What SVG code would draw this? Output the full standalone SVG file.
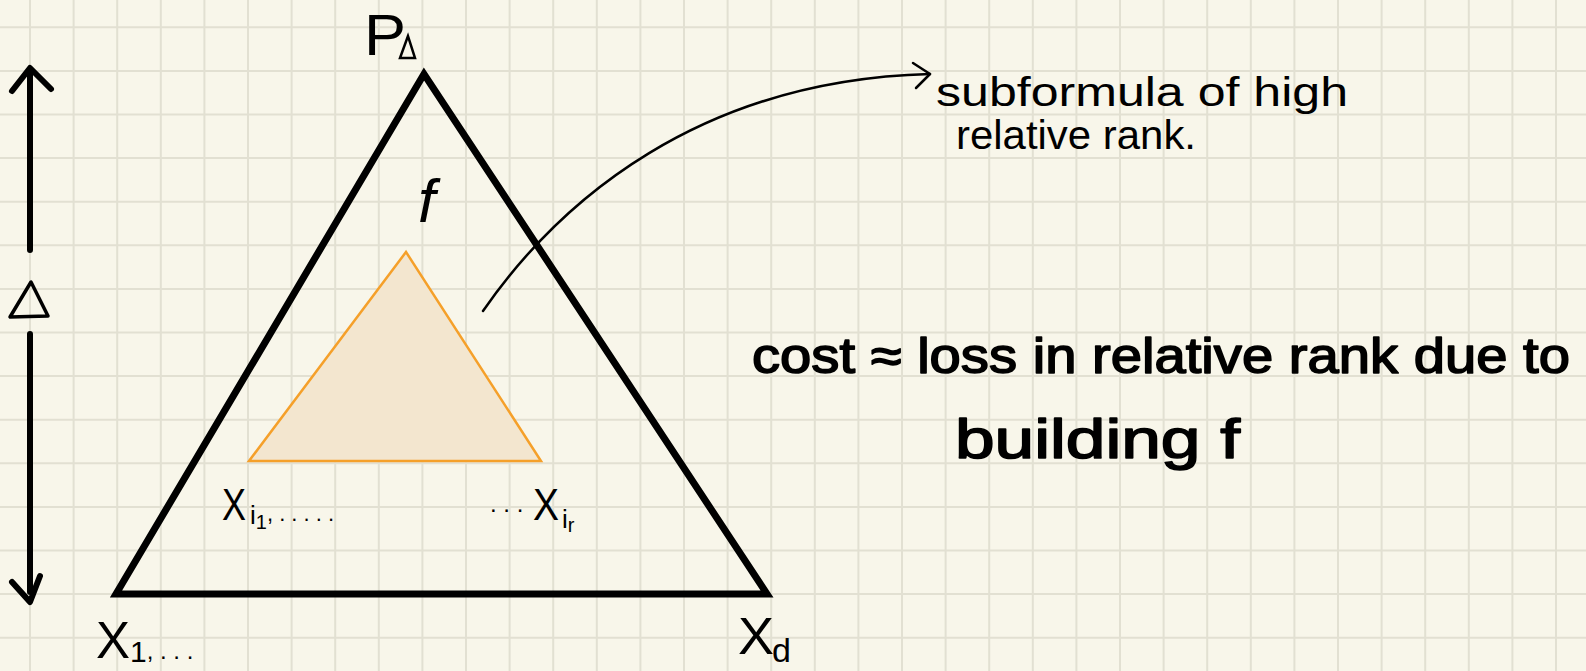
<svg xmlns="http://www.w3.org/2000/svg" width="1586" height="671" viewBox="0 0 1586 671">
<style>
.grid{stroke:#e2e0d2;stroke-width:2;fill:none}
.hw{font-family:"Liberation Sans",Arial,sans-serif;fill:#000}
.mk{stroke:#000;stroke-width:1.6;stroke-linejoin:round}
.tri{fill:none;stroke:#000;stroke-width:7;stroke-linejoin:miter}
.otri{fill:#f3e6cf;stroke:#f5a02a;stroke-width:2.5}
.arr{fill:none;stroke:#000;stroke-width:6;stroke-linecap:round;stroke-linejoin:round}
.thin{fill:none;stroke:#000;stroke-width:2.5;stroke-linecap:round;stroke-linejoin:round}
</style>
<rect width="1586" height="671" fill="#f8f6ea"/>
<path class="grid" d="M30,0V671M73.6,0V671M117.2,0V671M160.8,0V671M204.4,0V671M248,0V671M291.6,0V671M335.2,0V671M378.8,0V671M422.4,0V671M466,0V671M509.6,0V671M553.2,0V671M596.8,0V671M640.4,0V671M684,0V671M727.6,0V671M771.2,0V671M814.8,0V671M858.4,0V671M902,0V671M945.6,0V671M989.2,0V671M1032.8,0V671M1076.4,0V671M1120,0V671M1163.6,0V671M1207.2,0V671M1250.8,0V671M1294.4,0V671M1338,0V671M1381.6,0V671M1425.2,0V671M1468.8,0V671M1512.4,0V671M1556,0V671M0,27.3H1586M0,70.9H1586M0,114.5H1586M0,158.1H1586M0,201.7H1586M0,245.3H1586M0,288.9H1586M0,332.5H1586M0,376.1H1586M0,419.7H1586M0,463.3H1586M0,506.9H1586M0,550.5H1586M0,594.1H1586M0,637.7H1586"/>

<g id="outer-triangle">
<path class="tri" d="M424,74 L116,594 L767,594 Z"/>
</g>
<g id="inner-triangle">
<path class="otri" d="M406,252 L249,461 L541,461 Z"/>
</g>

<g id="height-arrow">
<path class="arr" d="M30,72 V250 M12,91 L30,68 L51,89"/>
<path class="arr" d="M30,334 V592 M12,582 L30,602 L40,576"/>
<path fill="none" stroke="#000" stroke-width="3.5" stroke-linejoin="round" d="M31,282 L10,317 L48,316 Z"/>
</g>

<g id="labels">
<text class="hw" x="364" y="55" font-size="58" textLength="42" lengthAdjust="spacingAndGlyphs">P</text>
<path fill="none" stroke="#000" stroke-width="2.5" d="M408,36 L400,58 L415,58 Z"/>
<text class="hw" x="418" y="222" font-size="62" font-style="italic">f</text>
<text class="hw" x="222" y="520" font-size="44" textLength="24" lengthAdjust="spacingAndGlyphs">X</text>
<text class="hw" x="250" y="524" font-size="26">i<tspan font-size="20" dy="5">1</tspan><tspan dy="-8" font-size="22">, . . . . .</tspan></text>
<text class="hw" x="490" y="512" font-size="24">. . .</text>
<text class="hw" x="533" y="520" font-size="44" textLength="26" lengthAdjust="spacingAndGlyphs">X</text>
<text class="hw" x="562" y="528" font-size="26">i<tspan font-size="20" dy="4">r</tspan></text>
<text class="hw" x="96" y="658" font-size="52" textLength="34" lengthAdjust="spacingAndGlyphs">X</text>
<text class="hw" x="130" y="662" font-size="30">1<tspan font-size="24" dy="-3">,  .  .  .</tspan></text>
<text class="hw" x="738" y="654" font-size="52" textLength="36" lengthAdjust="spacingAndGlyphs">X</text>
<text class="hw" x="772" y="662" font-size="34">d</text>
</g>

<g id="connectors">
<path class="thin" d="M483,311 C560,200 700,80 930,74"/>
<path class="thin" d="M913,63 L930,74 L916,88"/>
</g>

<g id="note">
<text class="hw" x="936" y="106" font-size="40" textLength="412" lengthAdjust="spacingAndGlyphs">subformula of high</text>
<text class="hw" x="956" y="149" font-size="40" textLength="240" lengthAdjust="spacingAndGlyphs">relative rank.</text>
</g>

<g id="cost">
<text class="hw mk" x="752" y="373" font-size="50" textLength="818" lengthAdjust="spacingAndGlyphs">cost ≈ loss in relative rank due to</text>
<text class="hw mk" x="955" y="458" font-size="56" textLength="285" lengthAdjust="spacingAndGlyphs">building f</text>
</g>
</svg>
